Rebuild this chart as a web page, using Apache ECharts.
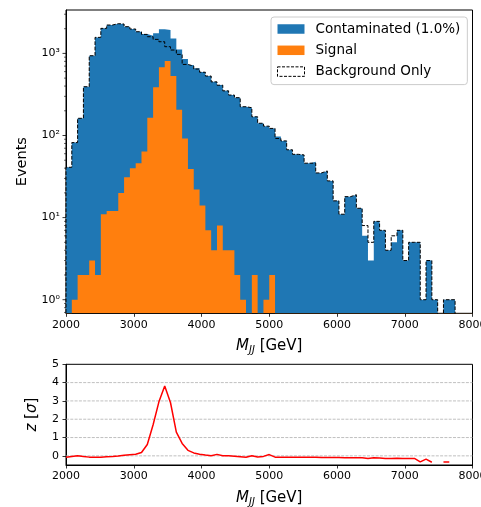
<!DOCTYPE html>
<html>
<head>
<meta charset="utf-8">
<script src="https://cdn.jsdelivr.net/npm/echarts@6.0.0/dist/echarts.min.js"></script>
<style>
html,body{margin:0;padding:0;background:#ffffff;}
#chart{width:481px;height:507px;}
</style>
</head>
<body>
<div id="chart"></div>
<script>
// ---------------- data ----------------
const xRange = [2000, 8000];
const nBins = 70;
const xTicks = [2000, 3000, 4000, 5000, 6000, 7000, 8000];

const background = [
  41, 82, 162, 393, 937, 1567, 2018, 2217, 2301, 2280,
  2115, 1982, 1837, 1705, 1597, 1482, 1387, 1207, 1099, 973,
  734, 701, 645, 590, 530, 450, 410, 350, 311, 289,
  224, 218, 169, 141, 130, 122, 92, 86, 67, 59,
  58, 46, 46, 35, 37, 28, 16, 11, 18, 19,
  13, 8, 5, 9, 7, 4, 6, 7, 3, 5,
  5, 1, 3, 1, 0, 1, 1, 0, 0, 0
];
const contaminated = [
  41, 82, 162, 393, 937, 1567, 2018, 2217, 2301, 2280,
  2115, 1982, 1837, 1720, 1640, 1754, 1963, 1927, 1524, 1119,
  854, 721, 660, 595, 532, 452, 412, 350, 311, 289,
  224, 218, 169, 141, 130, 122, 97, 86, 67, 59,
  58, 46, 48, 35, 37, 28, 16, 11, 18, 19,
  13, 6, 3, 9, 7, 4, 5, 7, 3, 5,
  5, 1, 3, 1, 0, 1, 1, 0, 0, 0
];
const signal = [
  0, 1, 2, 2, 3, 2, 11, 12, 12, 20,
  31, 40, 46, 64, 165, 386, 676, 807, 530, 206,
  92, 39, 22, 14, 7, 4, 8, 4, 4, 2,
  1, 0, 2, 0, 1, 2, 0, 0, 0, 0,
  0, 0, 0, 0, 0, 0, 0, 0, 0, 0,
  0, 0, 0, 0, 0, 0, 0, 0, 0, 0,
  0, 0, 0, 0, 0, 0, 0, 0, 0, 0
];
const zSignificance = [
  -0.08, -0.03, 0.0, -0.04, -0.07, -0.08, -0.07, -0.05, -0.04, -0.01,
  0.03, 0.06, 0.09, 0.18, 0.62, 1.7, 2.95, 3.82, 2.9, 1.3,
  0.68, 0.3, 0.16, 0.09, 0.04, 0.0, 0.08, 0.01, 0.0, -0.02,
  -0.05, -0.08, 0.01, -0.06, -0.03, 0.07, -0.07, -0.08, -0.08, -0.08,
  -0.08, -0.08, -0.08, -0.08, -0.09, -0.09, -0.09, -0.09, -0.1, -0.1,
  -0.1, -0.11, -0.15, -0.11, -0.12, -0.14, -0.15, -0.13, -0.15, -0.15,
  -0.14, -0.33, -0.18, -0.35, null, -0.33, -0.33, null, null, null
];
const logMajorTicks = [1, 10, 100, 1000];
const logMinorTicks = [0.7, 0.8, 0.9, 2, 3, 4, 5, 6, 7, 8, 9,
  20, 30, 40, 50, 60, 70, 80, 90, 200, 300, 400, 500, 600, 700, 800, 900, 2000, 3000];
const zTicks = [0, 1, 2, 3, 4, 5];
const zGridValues = [0, 1, 2, 3, 4];
const legendNames = ['Contaminated (1.0%)', 'Signal', 'Background Only'];

// ---------------- chart ----------------
const FONT = 'DejaVu Sans';
const BLUE = '#1f77b4', ORANGE = '#ff7f0e';
const binEdges = Array.from({length: nBins + 1}, (_, k) => xRange[0] + k * (xRange[1] - xRange[0]) / nBins);
const FLOOR = 1e-3;
function stepData(vals) {
  const out = [[binEdges[0], FLOOR]];
  vals.forEach((v, k) => out.push([binEdges[k], v > 0 ? v : FLOOR]));
  out.push([binEdges[nBins], FLOOR]);
  return out;
}
const SUP = {'0': '\u2070', '1': '\u00b9', '2': '\u00b2', '3': '\u00b3'};
function logLabel(v) {
  const l = Math.log10(v), r = Math.round(l);
  if (Math.abs(l - r) > 1e-6) return '';
  return '10' + String(r).split('').map(c => SUP[c] || c).join('');
}
const axisLineStyle = {show: true, onZero: false, lineStyle: {color: '#000', width: 1}};
const labelStyle = {color: '#000', fontSize: 11, fontFamily: FONT};
const nameRich = {
  i: {fontStyle: 'italic', fontSize: 15, fontFamily: FONT, lineHeight: 18, color: '#000'},
  s: {fontStyle: 'italic', fontSize: 10, fontFamily: FONT, lineHeight: 18, verticalAlign: 'bottom', color: '#000'}
};
function xAxisDef(gi) {
  return {
    type: 'value', gridIndex: gi, min: xRange[0], max: xRange[1], interval: 1000,
    axisLine: axisLineStyle,
    axisTick: {show: true, length: 3.5, customValues: xTicks, lineStyle: {color: '#000', width: 0.8}},
    axisLabel: Object.assign({margin: 6, customValues: xTicks, showMinLabel: true, showMaxLabel: true,
      formatter: v => String(Math.round(v))}, labelStyle),
    splitLine: {show: false},
    name: '{i|M}{s|JJ} [GeV]', nameLocation: 'middle', nameGap: 24,
    nameTextStyle: {fontSize: 15, fontFamily: FONT, color: '#000', lineHeight: 18, rich: nameRich}
  };
}

const chart = echarts.init(document.getElementById('chart'), null, {renderer: 'canvas'});
const option = {
  animation: false,
  backgroundColor: '#ffffff',
  textStyle: {fontFamily: FONT},
  grid: [
    {left: 66, right: 8.5, top: 10, height: 303.3, show: true, borderColor: '#000', borderWidth: 1, outerBoundsMode: 'none'},
    {left: 66, right: 8.5, top: 364.3, height: 100.7, show: true, borderColor: '#000', borderWidth: 1, outerBoundsMode: 'none'}
  ],
  xAxis: [xAxisDef(0), xAxisDef(1)],
  yAxis: [
    {
      type: 'log', logBase: 10, gridIndex: 0, min: 0.683, max: 3378,
      axisLine: axisLineStyle, axisTick: {show: false}, splitLine: {show: false}, minorTick: {show: false},
      axisLabel: Object.assign({margin: 6, formatter: logLabel, showMinLabel: false, showMaxLabel: false}, labelStyle),
      name: 'Events', nameLocation: 'middle', nameGap: 31,
      nameTextStyle: {fontSize: 14.5, fontFamily: FONT, color: '#000', lineHeight: 17}
    },
    {
      type: 'value', gridIndex: 1, min: -0.5, max: 5,
      axisLine: axisLineStyle,
      axisTick: {show: true, length: 3.5, customValues: zTicks, lineStyle: {color: '#000', width: 0.8}},
      axisLabel: Object.assign({margin: 7, customValues: zTicks}, labelStyle),
      splitLine: {show: false},
      name: '{i|z} [{i|\u03c3}]', nameLocation: 'middle', nameGap: 19,
      nameTextStyle: {fontSize: 15, fontFamily: FONT, color: '#000', lineHeight: 18, rich: nameRich}
    }
  ],
  legend: {
    orient: 'vertical', left: 271, top: 17, padding: [4, 7, 5, 6], itemGap: 5.3,
    itemWidth: 27, itemHeight: 9.5, selectedMode: false,
    backgroundColor: 'rgba(255,255,255,0.8)', borderColor: '#cccccc', borderWidth: 1, borderRadius: 3,
    textStyle: {fontFamily: FONT, fontSize: 13.5, color: '#000', lineHeight: 16, padding: [0, 0, 0, 6]},
    data: [
      {name: legendNames[0], icon: 'rect', itemStyle: {color: BLUE, borderWidth: 0}},
      {name: legendNames[1], icon: 'rect', itemStyle: {color: ORANGE, borderWidth: 0}},
      {name: legendNames[2], icon: 'rect', itemStyle: {color: '#ffffff', borderColor: '#000000', borderWidth: 1, borderType: [3, 1.5]}}
    ]
  },
  series: [
    {
      name: legendNames[0], type: 'line', xAxisIndex: 0, yAxisIndex: 0, step: 'end',
      data: stepData(contaminated), symbol: 'none', showSymbol: false, clip: true,
      itemStyle: {color: BLUE}, lineStyle: {width: 0, opacity: 0},
      areaStyle: {color: BLUE, opacity: 1, origin: 'start'}, silent: true
    },
    {
      name: legendNames[1], type: 'line', xAxisIndex: 0, yAxisIndex: 0, step: 'end',
      data: stepData(signal), symbol: 'none', showSymbol: false, clip: true,
      itemStyle: {color: ORANGE}, lineStyle: {width: 0, opacity: 0},
      areaStyle: {color: ORANGE, opacity: 1, origin: 'start'}, silent: true
    },
    {
      name: legendNames[2], type: 'line', xAxisIndex: 0, yAxisIndex: 0, step: 'end',
      data: stepData(background), symbol: 'none', showSymbol: false, clip: true,
      itemStyle: {color: '#000'}, lineStyle: {color: '#000', width: 1, type: [3.7, 1.6]}, silent: true
    },
    {
      type: 'custom', xAxisIndex: 0, yAxisIndex: 0, silent: true, clip: false,
      data: logMajorTicks.map(v => [xRange[0], v, 3.5]).concat(logMinorTicks.map(v => [xRange[0], v, 2])),
      renderItem: function (params, api) {
        const p = api.coord([api.value(0), api.value(1)]);
        const len = api.value(2);
        return {type: 'line', shape: {x1: p[0] - len, y1: p[1], x2: p[0], y2: p[1]},
          style: {stroke: '#000', lineWidth: len > 3 ? 0.8 : 0.6}};
      }
    },
    {
      type: 'custom', xAxisIndex: 1, yAxisIndex: 1, silent: true, clip: false, z: 1,
      data: zGridValues.map(v => [xRange[0], v]),
      renderItem: function (params, api) {
        const p0 = api.coord([xRange[0], api.value(1)]);
        const p1 = api.coord([xRange[1], api.value(1)]);
        return {type: 'line', shape: {x1: p0[0], y1: p0[1], x2: p1[0], y2: p1[1]},
          style: {stroke: '#b0b0b0', lineWidth: 0.8, lineDash: [3, 1.3]}};
      }
    },
    {
      name: 'z', type: 'line', xAxisIndex: 1, yAxisIndex: 1, symbol: 'none', showSymbol: false,
      data: zSignificance.map((z, k) => [binEdges[k], z === null ? '-' : z]),
      connectNulls: false, clip: true, z: 3,
      lineStyle: {color: '#ff0000', width: 1.5}, itemStyle: {color: '#ff0000'}, silent: true
    }
  ]
};
chart.setOption(option);
</script>
</body>
</html>
